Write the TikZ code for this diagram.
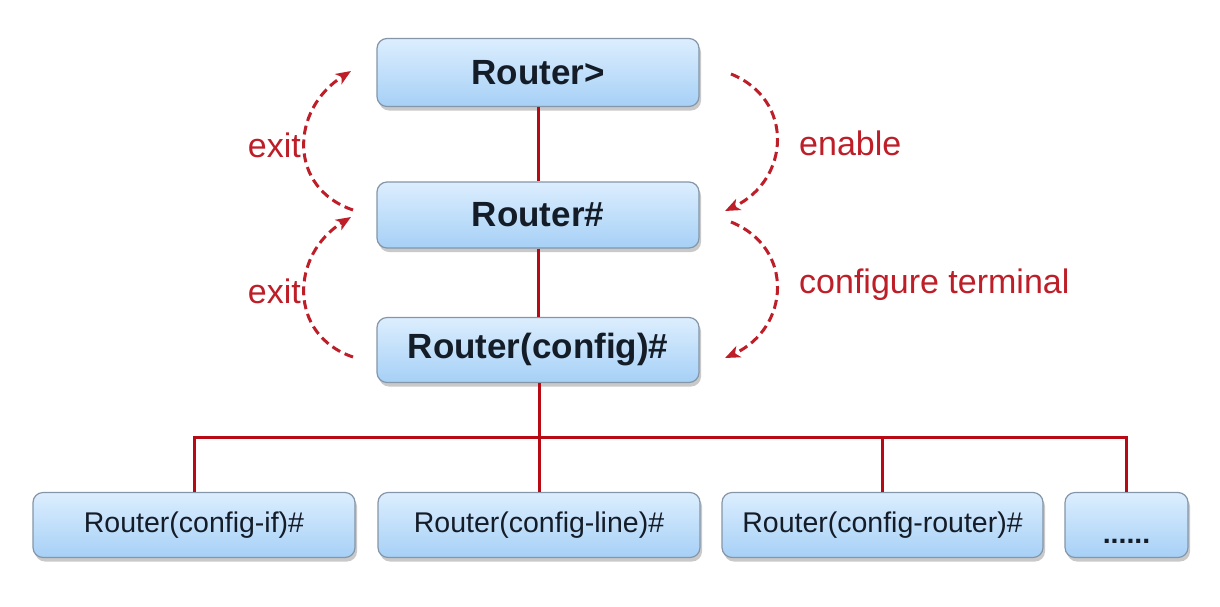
\documentclass[tikz,border=0pt]{standalone}
\usepackage{fontspec}
\setmainfont{Liberation Sans}
\usetikzlibrary{shadows,arrows.meta}
\definecolor{boxtop}{HTML}{DCEEFE}
\definecolor{boxbot}{HTML}{A6D0F6}
\definecolor{boxline}{HTML}{8496A8}
\definecolor{wire}{HTML}{B80A14}
\definecolor{lbl}{HTML}{BE1E28}
\definecolor{boxtext}{HTML}{141C28}
\tikzset{
  modebox/.style={rounded corners=10pt, draw=boxline, line width=1.2pt,
    top color=boxtop, bottom color=boxbot, inner sep=0pt,
    drop shadow={shadow xshift=2pt, shadow yshift=-4pt, opacity=0.35, fill=black!60},
    text=boxtext},
  bigbox/.style={modebox, minimum width=322pt, font=\fontsize{35}{40}\selectfont\bfseries},
  subbox/.style={modebox, minimum height=65pt, font=\fontsize{28.5}{32}\selectfont},
  wireline/.style={draw=wire, line width=3pt},
  modearrow/.style={draw=lbl, line width=3pt, dash pattern=on 9pt off 5pt,
    -{Stealth[length=15pt,width=12pt,inset=4pt]}},
  cmdlabel/.style={text=lbl, font=\fontsize{34}{38}\selectfont, inner sep=0pt}
}
\begin{document}
\begin{tikzpicture}[x=1pt,y=-1pt]
\useasboundingbox (0,0) rectangle (1220,606);
\fill[white] (0,0) rectangle (1220,606);
% main mode boxes
\node[bigbox, minimum height=68pt] (user) at (538,72.5) {Router>};
\node[bigbox, minimum height=66pt] (priv) at (538,215) {Router\#};
\node[bigbox, minimum height=65pt] (conf) at (538,350) {Router(config)\#};
% sub mode boxes
\node[subbox, minimum width=322pt] (b1) at (194,525) {Router(config-if)\#};
\node[subbox, minimum width=322pt] (b2) at (539,525) {Router(config-line)\#};
\node[subbox, minimum width=321pt] (b3) at (882.5,525) {Router(config-router)\#};
\node[subbox, minimum width=123pt] (b4) at (1126.5,525) {\smash{\raisebox{-18pt}{\bfseries......}}};
% wires
\coordinate (bus) at (539,437);
\draw[wireline] (user) -- (priv);
\draw[wireline] (priv) -- (conf);
\draw[wireline] (conf.south -| bus) -- (b2.north -| bus);
\draw[wireline] (b1.north) |- (bus) -| (b4.north);
\draw[wireline] (b3.north) -- (b3.north |- bus);
% mode change arrows
\coordinate (e1s) at (731,74);  \coordinate (e1e) at (725,211);
\coordinate (e2s) at (731,222); \coordinate (e2e) at (725,358);
\coordinate (x1s) at (353,210); \coordinate (x1e) at (351,71);
\coordinate (x2s) at (353,357); \coordinate (x2e) at (351,217);
\draw[modearrow] (e1s) .. controls (795,100) and (790,180) .. (e1e);
\draw[modearrow] (e2s) .. controls (795,248) and (790,328) .. (e2e);
\draw[modearrow] (x1s) .. controls (288,188) and (290,110) .. (x1e);
\draw[modearrow] (x2s) .. controls (288,335) and (290,255) .. (x2e);
% labels
\node[cmdlabel, anchor=west] (enable) at (799,143) {enable};
\node[cmdlabel, anchor=west] (confterm) at (799,285) {configure terminal};
\node[cmdlabel, anchor=east] (exit1) at (301,145) {exit};
\node[cmdlabel, anchor=east] (exit2) at (301,291) {exit};
\end{tikzpicture}
\end{document}
